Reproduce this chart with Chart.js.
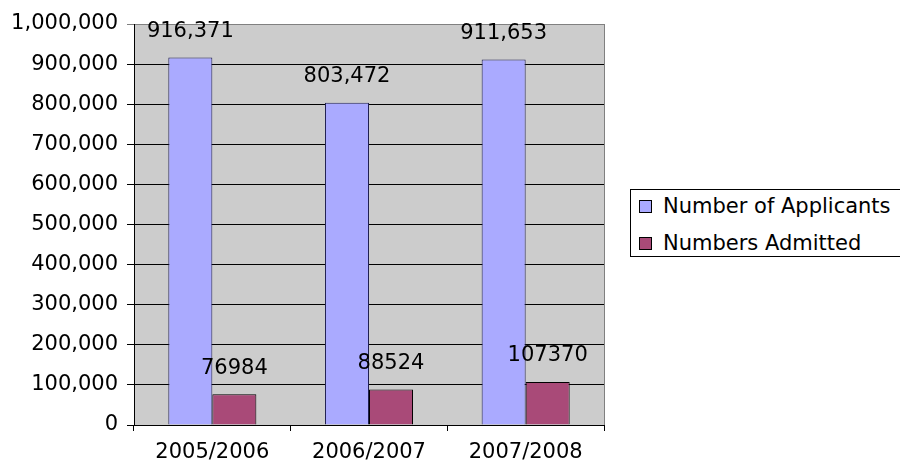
<!DOCTYPE html>
<html>
<head>
<meta charset="utf-8">
<script src="https://cdn.jsdelivr.net/npm/chart.js@4"></script>
<style>
  body { margin: 0; background: #fff; }
  #wrap { position: relative; width: 900px; height: 464px; }
  #leyenda {
    position: absolute; left: 630px; top: 189px; width: 290px; height: 66px;
    border: 1px solid #000; background: #fff;
    font-family: "DejaVu Sans", sans-serif; font-size: 21px; color: #000;
  }
  .item { position: absolute; left: 8px; height: 24px; line-height: 24px; white-space: nowrap; }
  .item span.caja { position: absolute; left: 0; top: 6px; width: 11px; height: 11px; border: 1px solid #000; }
  .item span.txt { position: absolute; left: 24px; top: 0; }
</style>
</head>
<body>
<div id="wrap">
  <canvas id="myChart" width="900" height="464"></canvas>
  <div id="leyenda"></div>
</div>
<script>
//DATOS
const years = ["2005/2006", "2006/2007", "2007/2008"];
const applicants = [916371, 803472, 911653];
const admitted = [76984, 88524, 107370];
const seriesNames = ["Number of Applicants", "Numbers Admitted"];
const seriesColors = ["#AAAAFF", "#A94A78"];
const yTicks = [0, 100000, 200000, 300000, 400000, 500000, 600000, 700000, 800000, 900000, 1000000];

const FONT = { family: "DejaVu Sans", size: 21 };

//PLUGINS
const fondoPlot = {
  id: "fondoPlot",
  beforeDraw(chart) {
    const { ctx, chartArea: a } = chart;
    ctx.save();
    ctx.fillStyle = "#CCCCCC";
    ctx.fillRect(a.left, a.top, a.right - a.left, a.bottom - a.top);
    ctx.restore();
  },
  afterDraw(chart) {
    const { ctx, chartArea: a } = chart;
    ctx.save();
    ctx.strokeStyle = "#808080";
    ctx.lineWidth = 1;
    ctx.beginPath();
    ctx.moveTo(Math.round(a.right) + 0.5, a.top);
    ctx.lineTo(Math.round(a.right) + 0.5, a.bottom);
    ctx.stroke();
    ctx.restore();
  },
};

const etiquetas = {
  id: "etiquetas",
  afterDatasetsDraw(chart) {
    const ctx = chart.ctx;
    ctx.save();
    ctx.font = FONT.size + "px " + FONT.family;
    ctx.fillStyle = "#000";
    ctx.textAlign = "center";
    ctx.textBaseline = "middle";
    chart.data.datasets.forEach((ds, i) => {
      chart.getDatasetMeta(i).data.forEach((bar, j) => {
        const v = ds.data[j];
        const texto = i === 0 ? v.toLocaleString("en-US") : String(v);
        ctx.fillText(texto, bar.x, bar.y - 26);
      });
    });
    ctx.restore();
  },
};

//GRAFICO
const data = {
  labels: years,
  datasets: [
    {
      label: seriesNames[0],
      data: applicants,
      backgroundColor: seriesColors[0],
      borderColor: "#202050",
      borderWidth: 1,
      categoryPercentage: 0.562,
      barPercentage: 1,
    },
    {
      label: seriesNames[1],
      data: admitted,
      backgroundColor: seriesColors[1],
      borderColor: "#000",
      borderWidth: 1,
      categoryPercentage: 0.562,
      barPercentage: 1,
    },
  ],
};

const config = {
  type: "bar",
  data: data,
  plugins: [fondoPlot, etiquetas],
  options: {
    responsive: false,
    animation: false,
    layout: { padding: { left: 0, top: 24, right: 296, bottom: 0 } },
    plugins: {
      legend: { display: false },
      tooltip: { enabled: false },
    },
    scales: {
      x: {
        grid: { offset: true, drawOnChartArea: false, color: "#000", tickLength: 6 },
        border: { color: "#000" },
        ticks: { color: "#000", font: FONT, padding: 9, maxRotation: 0 },
        afterFit(scale) { scale.height = 39; },
      },
      y: {
        min: 0,
        max: 1000000,
        afterBuildTicks(scale) { scale.ticks = yTicks.map((v) => ({ value: v })); },
        grid: {
          color: (c) => (c.tick && c.tick.value === 1000000 ? "#808080" : "#000"),
          tickLength: 7,
        },
        border: { color: "#000" },
        ticks: {
          color: "#000",
          font: FONT,
          padding: 9,
          callback: (v) => v.toLocaleString("en-US"),
        },
        afterFit(scale) { scale.width = 134; },
      },
    },
  },
};

const myChart = new Chart(document.getElementById("myChart"), config);

//LEYENDA
function cargarLeyenda(chart) {
  let texto = "";
  chart.data.datasets.forEach((ds, i) => {
    texto += `
      <div class="item" style="top:${4 + i * 37}px">
        <span class="caja" style="background:${ds.backgroundColor}"></span>
        <span class="txt">${ds.label}</span>
      </div>`;
  });
  document.getElementById("leyenda").innerHTML = texto;
}
cargarLeyenda(myChart);
</script>
</body>
</html>
